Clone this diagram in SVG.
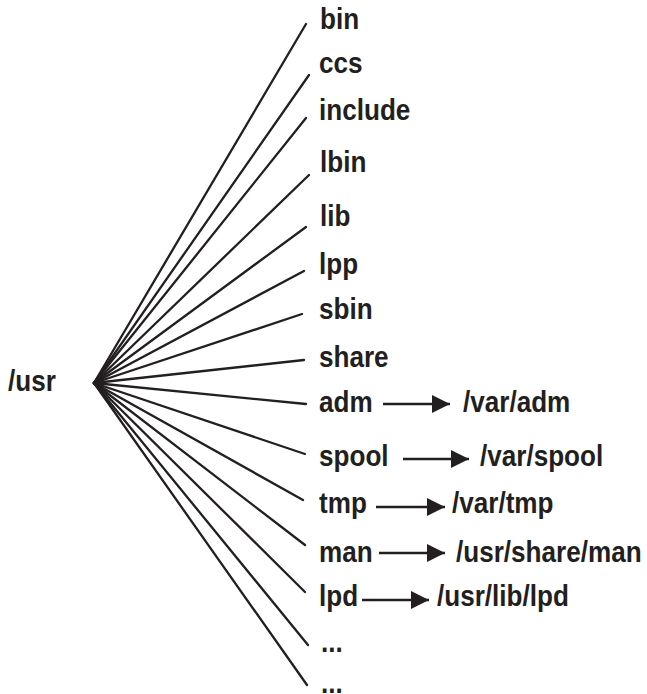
<svg xmlns="http://www.w3.org/2000/svg" width="647" height="694" viewBox="0 0 647 694">
<defs>
<style>
.t{font-family:"Liberation Sans",Arial,sans-serif;font-weight:bold;font-size:29px;fill:#231f20}
.c{stroke:#231f20;stroke-width:2.3;fill:none;stroke-linecap:round}
.a{stroke:#231f20;stroke-width:2.3;fill:none}
</style>
<marker id="ah" markerUnits="userSpaceOnUse" markerWidth="20" markerHeight="20" refX="18" refY="9" orient="auto">
<path d="M0,0 L18,9 L0,18 Z" fill="#231f20"/>
</marker>
</defs>
<rect width="647" height="694" fill="#fff"/>
<g id="connectors">
<line class="c" x1="94" y1="383" x2="306" y2="24"/>
<line class="c" x1="94" y1="383" x2="309" y2="75"/>
<line class="c" x1="94" y1="383" x2="306" y2="118"/>
<line class="c" x1="94" y1="383" x2="309" y2="175"/>
<line class="c" x1="94" y1="383" x2="306" y2="227"/>
<line class="c" x1="94" y1="383" x2="304" y2="271"/>
<line class="c" x1="94" y1="383" x2="302" y2="314"/>
<line class="c" x1="94" y1="383" x2="304" y2="360"/>
<line class="c" x1="94" y1="383" x2="306" y2="404"/>
<line class="c" x1="94" y1="383" x2="305" y2="454"/>
<line class="c" x1="94" y1="383" x2="303" y2="500"/>
<line class="c" x1="94" y1="383" x2="305" y2="545"/>
<line class="c" x1="94" y1="383" x2="305" y2="592"/>
<line class="c" x1="94" y1="383" x2="308" y2="645"/>
<line class="c" x1="94" y1="383" x2="307" y2="685"/>
<line class="a" x1="383" y1="404" x2="450" y2="404" marker-end="url(#ah)"/>
<line class="a" x1="403" y1="459" x2="469" y2="459" marker-end="url(#ah)"/>
<line class="a" x1="376" y1="507" x2="445" y2="507" marker-end="url(#ah)"/>
<line class="a" x1="379" y1="553" x2="445" y2="553" marker-end="url(#ah)"/>
<line class="a" x1="362" y1="600" x2="429" y2="600" marker-end="url(#ah)"/>
</g>
<g id="usr"><text class="t" transform="translate(8,391) scale(0.9,1)">/usr</text></g>
<g id="bin"><text class="t" transform="translate(320,29) scale(0.9,1)">bin</text></g>
<g id="ccs"><text class="t" transform="translate(319,73) scale(0.9,1)">ccs</text></g>
<g id="include"><text class="t" transform="translate(319,120) scale(0.9,1)">include</text></g>
<g id="lbin"><text class="t" transform="translate(320,172) scale(0.9,1)">lbin</text></g>
<g id="lib"><text class="t" transform="translate(320,226) scale(0.9,1)">lib</text></g>
<g id="lpp"><text class="t" transform="translate(319,274) scale(0.9,1)">lpp</text></g>
<g id="sbin"><text class="t" transform="translate(319,319) scale(0.9,1)">sbin</text></g>
<g id="share"><text class="t" transform="translate(319,367) scale(0.9,1)">share</text></g>
<g id="adm"><text class="t" transform="translate(319,412) scale(0.9,1)">adm</text></g>
<g id="var-adm"><text class="t" transform="translate(463,412) scale(0.9,1)">/var/adm</text></g>
<g id="spool"><text class="t" transform="translate(319,466) scale(0.9,1)">spool</text></g>
<g id="var-spool"><text class="t" transform="translate(480,466) scale(0.9,1)">/var/spool</text></g>
<g id="tmp"><text class="t" transform="translate(319,513) scale(0.9,1)">tmp</text></g>
<g id="var-tmp"><text class="t" transform="translate(452,513) scale(0.9,1)">/var/tmp</text></g>
<g id="man"><text class="t" transform="translate(319,562) scale(0.9,1)">man</text></g>
<g id="usr-share-man"><text class="t" transform="translate(456,562) scale(0.9,1)">/usr/share/man</text></g>
<g id="lpd"><text class="t" transform="translate(319,606) scale(0.9,1)">lpd</text></g>
<g id="usr-lib-lpd"><text class="t" transform="translate(437,606) scale(0.9,1)">/usr/lib/lpd</text></g>
<g id="more1"><text class="t" transform="translate(321,652) scale(0.9,1)">...</text></g>
<g id="more2"><text class="t" transform="translate(321,693) scale(0.9,1)">...</text></g>
</svg>
